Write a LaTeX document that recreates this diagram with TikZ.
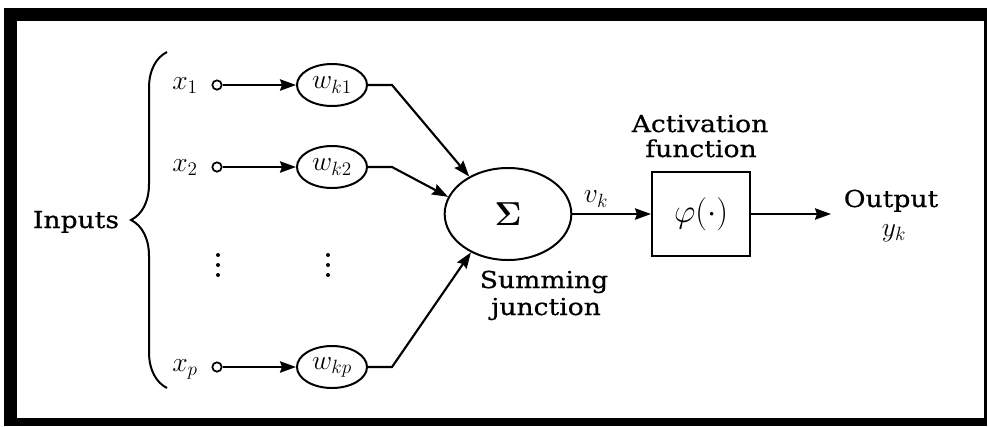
\documentclass[tikz,border=0pt]{standalone}
\usepackage{amsmath}
\usepackage[no-math]{fontspec}
\setmainfont{DejaVu Serif}[FakeStretch=1.14, FakeBold=0.6]
\usetikzlibrary{arrows.meta,decorations.pathreplacing,shapes.geometric}

\begin{document}
\begin{tikzpicture}[x=0.75pt,y=-0.75pt,
  wire/.style={line width=1.6pt},
  tip/.style={-{Stealth[length=12pt,width=8.5pt,inset=1.5pt]}},
  weight/.style={ellipse, draw, line width=1.5pt, minimum width=52.5pt,
                 minimum height=31.5pt, inner sep=0pt, font=\fontsize{21}{24}\selectfont},
  term/.style={circle, draw, line width=1.3pt, minimum size=7pt, inner sep=0pt},
  lbl/.style={font=\fontsize{17.5}{20}\selectfont, inner sep=0pt},
  mth/.style={font=\fontsize{22}{24}\selectfont, inner sep=0pt}]

% page and heavy frame
\fill[white] (0,0) rectangle (988,426);
\fill[black] (4,8) rectangle (986.5,426);
\fill[white] (17,21) rectangle (984,418);
\useasboundingbox (0,0) rectangle (988,426);

% inputs and brace
\node[lbl, anchor=base] (inputs) at (76,228) {Inputs};
\draw[line width=1.5pt, decorate, decoration={brace, amplitude=27pt}]
  (167,388) -- (167,52);

% input terminals
\node[term] (t1) at (217,85) {};
\node[term] (t2) at (217,167) {};
\node[term] (tp) at (217,367) {};
\node[mth, anchor=base] (x1) at (185,89) {$x_1$};
\node[mth, anchor=base] (x2) at (185,171) {$x_2$};
\node[mth, anchor=base] (xp) at (185,371) {$x_p$};

% synaptic weights
\node[weight] (w1) at (332,85) {$w_{k1}$};
\node[weight] (w2) at (332,167) {$w_{k2}$};
\node[weight] (wp) at (332,367) {$w_{kp}$};

% elided rows
\foreach \xx in {218,328}
  \foreach \yy in {255,265,275}
    \fill (\xx,\yy) circle (2);

% summing junction
\node[ellipse, draw, line width=1.5pt, minimum width=95pt, minimum height=69pt,
      inner sep=0pt] (sum) at (508,214) {\fontsize{34}{36}\selectfont$\boldsymbol{\Sigma}$};
\node[lbl, anchor=base] (sumA) at (544,288) {Summing};
\node[lbl, anchor=base] (sumB) at (546,315) {junction};

% activation function
\node[draw, line width=1.5pt, minimum width=73.5pt, minimum height=63pt, inner sep=0pt,
      font=\fontsize{23}{25}\selectfont] (phi) at (701,214) {$\varphi(\cdot)$};
\node[lbl, anchor=base] (actA) at (700,132) {Activation};
\node[lbl, anchor=base] (actB) at (701,157) {function};

% output
\coordinate (out) at (831,214);
\node[lbl, anchor=base] (output) at (891,207) {Output};
\node[mth, anchor=base] (yk) at (894,236) {$y_k$};
\node[mth] (vk) at (596,199) {$v_k$};

% connectors
\draw[wire, tip] (t1) -- (w1);
\draw[wire, tip] (t2) -- (w2);
\draw[wire, tip] (tp) -- (wp);

\coordinate (b1) at (392,85);
\coordinate (b2) at (392,167);
\coordinate (bp) at (392,367);
\draw[wire, tip] (w1.east) -- (b1) -- (sum.136);
\draw[wire, tip] (w2.east) -- (b2) -- (sum.164);
\draw[wire, tip] (wp.east) -- (bp) -- (sum.226);

\draw[wire, tip] (sum.east) -- (phi.west);
\draw[wire, tip] (phi.east) -- (out);
\end{tikzpicture}
\end{document}
